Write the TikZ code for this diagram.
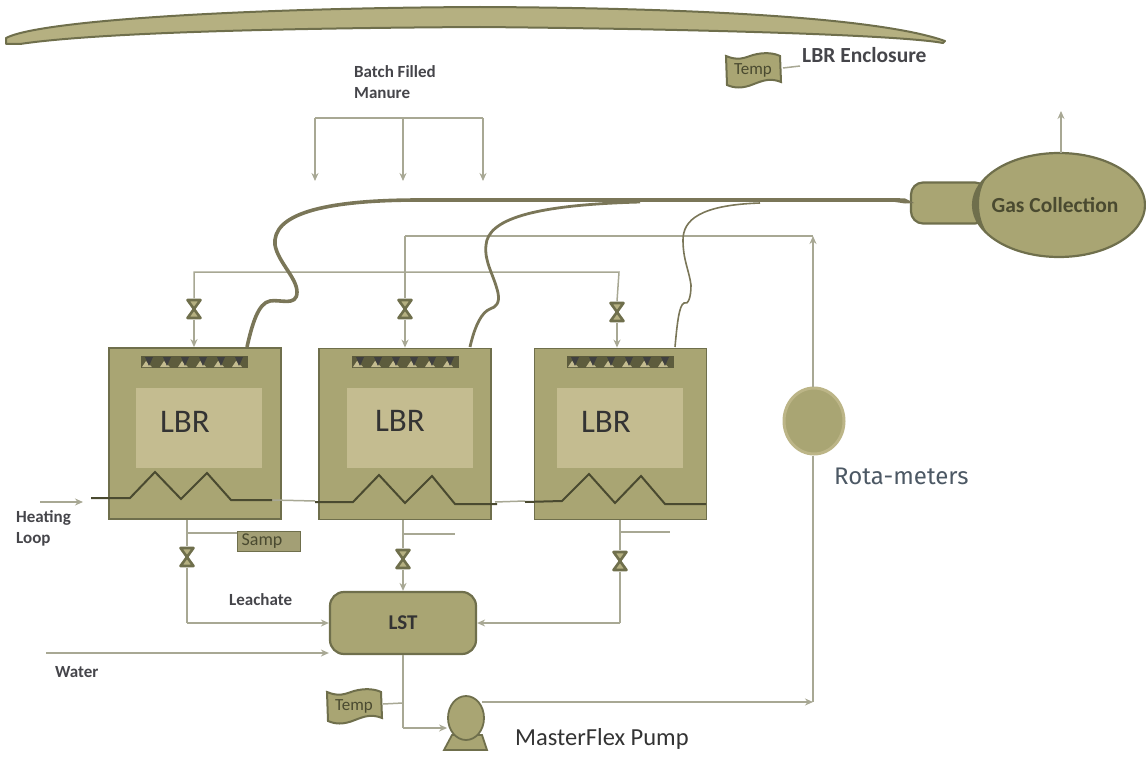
\documentclass[tikz,border=0pt]{standalone}
\usepackage{fontspec}
\setmainfont{Carlito}
\newfontfamily\plexlike{Fira Sans}
\usetikzlibrary{arrows.meta,shapes.geometric}
\definecolor{olive}{HTML}{A9A573}
\definecolor{oliveB}{HTML}{B5B081}
\definecolor{oliveL}{HTML}{C4BC90}
\definecolor{edge}{HTML}{6F6F4C}
\definecolor{dark}{HTML}{4A4A30}
\definecolor{pipe}{HTML}{A8A894}
\definecolor{gaspipe}{HTML}{7A7658}
\definecolor{ink}{HTML}{45454A}
\definecolor{rotaink}{HTML}{4C5864}
\newcommand{\bannerpath}{(0,1) .. controls (12,6) and (18,3) .. (27,0) .. controls (38,-3) and (48,-2) .. (54,1) -- (55,27) .. controls (45,23) and (38,25) .. (28,29) .. controls (16,34) and (8,33) .. (1,30) -- cycle}
\tikzset{
  lbrbox/.style={draw=edge,line width=1.8pt,fill=olive,minimum width=172pt,minimum height=171pt,inner sep=0pt},
  lbrcore/.style={fill=oliveL,minimum width=126pt,minimum height=80pt,inner sep=0pt},
  lbrtext/.style={font=\fontsize{33}{36}\selectfont,text=black!80},
  spray/.style={fill=dark!80!olive,minimum width=107pt,minimum height=12pt,inner sep=0pt},
  valvebox/.style={minimum width=16pt,minimum height=21pt,inner sep=0pt,
    path picture={
      \fill[fill=oliveB,draw=edge,line width=2.6pt,line join=round]
        ([xshift=1.5pt,yshift=-1.5pt]path picture bounding box.north west) --
        ([xshift=-1.5pt,yshift=-1.5pt]path picture bounding box.north east) --
        ([xshift=1.5pt,yshift=1.5pt]path picture bounding box.south west) --
        ([xshift=-1.5pt,yshift=1.5pt]path picture bounding box.south east) -- cycle;
    }},
  flow/.style={draw=pipe,line width=1.5pt,-{Stealth[length=8pt,width=7pt]}},
  plain/.style={draw=pipe,line width=1.5pt},
  coil/.style={draw=dark,line width=2pt,line join=miter},
  gasline/.style={draw=gaspipe},
  lab/.style={font=\fontsize{17}{20}\selectfont\bfseries,text=ink,inner sep=0pt,align=left},
  bannertext/.style={font=\fontsize{17}{19}\selectfont,text=dark,inner sep=0pt},
}
\begin{document}
\begin{tikzpicture}[x=1pt,y=-1pt]
\useasboundingbox (0,0) rectangle (1146,757);
% enclosure
\fill[fill=oliveB,draw=edge,line width=2pt,line join=round] (6,38) .. controls (40,20) and (250,8) .. (480,7) .. controls (700,8) and (880,18) .. (945,41) -- (943,43) .. controls (900,35) and (700,29) .. (480,27) .. controls (300,28) and (100,32) .. (20,44) -- (6,44) -- cycle;
% reactors
\node[lbrbox] (r1) at (195,433.5) {};
\node[lbrbox] (r2) at (405,434) {};
\node[lbrbox] (r3) at (620.5,434) {};
\node[lbrcore] (c1) at (199,428) {};
\node[lbrcore] (c2) at (410,428) {};
\node[lbrcore] (c3) at (620,428) {};
\node[lbrtext] (t1) at (185,422) {LBR};
\node[lbrtext] (t2) at (400,421) {LBR};
\node[lbrtext] (t3) at (606,422) {LBR};
\foreach \n/\x in {s1/194,s2/405,s3/620}{
  \node[spray] (\n) at (\x,362) {};
  \foreach \d in {-45,-27,-9,9,27,45}{
    \fill[oliveL] (\x+\d-7,367) -- (\x+\d-3,361) -- (\x+\d+3,367) -- cycle;
    \fill[black!75] (\x+\d-4,357) -- (\x+\d+4,357) -- (\x+\d,366) -- cycle;
  }
}
% valves
\node[valvebox] (vt1) at (194,309) {};
\node[valvebox] (vt2) at (405,309) {};
\node[valvebox] (vt3) at (617,312) {};
\node[valvebox] (vb1) at (187,557) {};
\node[valvebox] (vb2) at (403,559) {};
\node[valvebox] (vb3) at (620,561) {};
% tanks
\node[draw=edge,line width=2.2pt,fill=olive,rounded corners=14pt,minimum width=146pt,minimum height=62pt,inner sep=0pt,font=\fontsize{21}{24}\selectfont\bfseries,text=black!80] (lst) at (403,623) {LST};
\node[draw=edge,line width=2.2pt,fill=olive,rounded corners=12pt,minimum width=76pt,minimum height=41pt,inner sep=0pt] (tank) at (949,203) {};
\node[draw=edge,line width=2.2pt,fill=olive,ellipse,minimum width=172pt,minimum height=104pt,inner sep=0pt] (gas) at (1059,205) {};
\fill[edge] (988,176) .. controls (968,190) and (968,218) .. (988,234) .. controls (976,218) and (976,190) .. (988,176) -- cycle;
\node[font=\fontsize{21.5}{24}\selectfont\bfseries,text=dark,inner sep=0pt] (gaslabel) at (1055,205) {Gas Collection};
\node[draw=oliveL!70!olive,line width=3pt,fill=olive,ellipse,minimum width=60pt,minimum height=66pt,inner sep=0pt] (rota) at (814,421) {};
% pump
\fill[fill=olive,draw=edge,line width=1.8pt] (444,750) -- (452,735) -- (482,735) -- (487,750) -- cycle;
\node[draw=edge,line width=1.8pt,fill=olive,ellipse,minimum width=36pt,minimum height=44pt,inner sep=0pt] (pump) at (466,718) {};
% banners and sample box
\begin{scope}[shift={(726,55)}]
\fill[fill=olive,draw=edge,line width=2pt] \bannerpath;
\node[bannertext] (temp1) at (27,15) {Temp};
\end{scope}
\begin{scope}[shift={(327,691)}]
\fill[fill=olive,draw=edge,line width=2pt] \bannerpath;
\node[bannertext] (temp2) at (27,15) {Temp};
\end{scope}
\node[draw=edge,line width=1.8pt,fill=olive!85!gray,minimum width=63pt,minimum height=20pt,inner sep=0pt,font=\fontsize{18}{20}\selectfont,text=dark] (samp) at (269,541.5) {\hspace*{-14pt}Samp};
% named free ends
\coordinate (man0) at (403,118);
\coordinate (manL) at (315,118);
\coordinate (manR) at (483,118);
\coordinate (manLe) at (315,181);
\coordinate (manMe) at (403,181);
\coordinate (manRe) at (483,181);
\coordinate (ventEnd) at (1061,111);
\coordinate (heatA) at (40,502);
\coordinate (heatB) at (83,502);
\coordinate (waterA) at (46,653);
\coordinate (cornerB) at (813,702);
\coordinate (topEnd) at (813,236);
% manure feed
\draw[plain] (manL) -- (manR);
\draw[flow] (manL) -- (manLe);
\draw[flow] (man0) -- (manMe);
\draw[flow] (manR) -- (manRe);
% recirculation
\draw[plain] (vt1.north) |- (619,272) -- (vt3.north);
\draw[plain] (405,236) -- (vt2.north);
\draw[plain] (405,236) -- (topEnd);
\draw[flow] (vt1.south) -- (r1.north -| vt1);
\draw[flow] (vt2.south) -- (r2.north -| vt2);
\draw[flow] (vt3.south) -- (r3.north -| vt3);
\draw[flow] (rota.north -| topEnd) -- (topEnd);
\draw[plain] (rota.south -| cornerB) -- (cornerB);
\draw[flow] (482,702) -- (cornerB);
% vent
\draw[flow] (1061,153) -- (ventEnd);
% gas lines
\draw[gasline,line width=3.6pt] (247,347) .. controls (252,325) and (258,303) .. (270,301) .. controls (280,299) and (297,307) .. (297,292) .. controls (297,278) and (278,262) .. (275,245) .. controls (272,215) and (320,200) .. (420,200) -- (900,200);
\draw[gasline,line width=2.8pt] (470,347) .. controls (475,325) and (482,312) .. (490,309) .. controls (496,307) and (500,303) .. (498,293) .. controls (494,275) and (484,262) .. (486,245) .. controls (488,220) and (530,205) .. (640,202);
\draw[gasline,line width=1.6pt] (675,347) .. controls (677,325) and (679,305) .. (684,303) .. controls (688,305) and (691,298) .. (691,285) .. controls (689,270) and (683,260) .. (683,240) .. controls (683,220) and (700,205) .. (760,203);
\fill[gaspipe] (895,198.2) -- (905,198.5) -- (914,203) -- (905,203.5) -- (895,202) -- cycle;
% discharge
\draw[plain] (r1.south -| vb1) -- (vb1.north);
\draw[plain] (r2.south -| vb2) -- (vb2.north);
\draw[plain] (r3.south -| vb3) -- (vb3.north);
\draw[plain] (vb1.south) -- (vb1.south |- lst.west);
\draw[flow] (vb1.south |- lst.west) -- (lst.west);
\draw[flow] (vb2.south) -- (lst.north -| vb2);
\draw[plain] (vb3.south) -- (vb3.south |- lst.east);
\draw[flow] (vb3.south |- lst.east) -- (lst.east);
\draw[plain] (samp.west |- 0,533) -- (187,533);
\draw[plain] (403,534) -- (455,534);
\draw[plain] (620,532) -- (670,532);
\draw[flow] (waterA) -- (lst.west |- waterA);
\draw[plain] (lst.south) -- (lst.south |- 0,728);
\draw[flow] (lst.south |- 0,728) -- (pump.west |- 0,728);
\draw[plain] (783,68) -- (800,66);
\draw[plain] (383,704) -- (403,703);
% heating loop
\draw[flow] (heatA) -- (heatB);
\draw[plain] (272,500) -- (315,501);
\draw[plain] (495,502) -- (525,501);
\draw[coil] (91,498) -- (130,498) -- (155,472) -- (181,499) -- (207,473) -- (231,500) -- (272,500);
\draw[coil] (315,502) -- (353,502) -- (379,475) -- (405,503) -- (432,476) -- (455,504) -- (497,504);
\draw[coil] (525,502) -- (562,501) -- (589,474) -- (615,503) -- (641,476) -- (665,504) -- (706,504);
% labels
\node[lab,anchor=west] (batch) at (354,82) {Batch Filled\\[1pt]Manure};
\node[lab,anchor=west,font=\fontsize{21.5}{24}\selectfont\bfseries] (encl) at (802,55) {LBR Enclosure};
\node[lab,anchor=west] (heat) at (16,528) {Heating\\[1pt]Loop};
\node[lab,anchor=west] (leach) at (229,600) {Leachate};
\node[lab,anchor=west] (water) at (55,672) {Water};
\node[anchor=west,inner sep=0pt,font=\fontsize{24.5}{28}\selectfont,text=black!80] (mf) at (515,739) {MasterFlex Pump};
\node[anchor=west,inner sep=0pt,font=\plexlike\fontsize{24}{28}\selectfont,text=rotaink] (rm) at (834,476) {Rota-meters};
\end{tikzpicture}
\end{document}
